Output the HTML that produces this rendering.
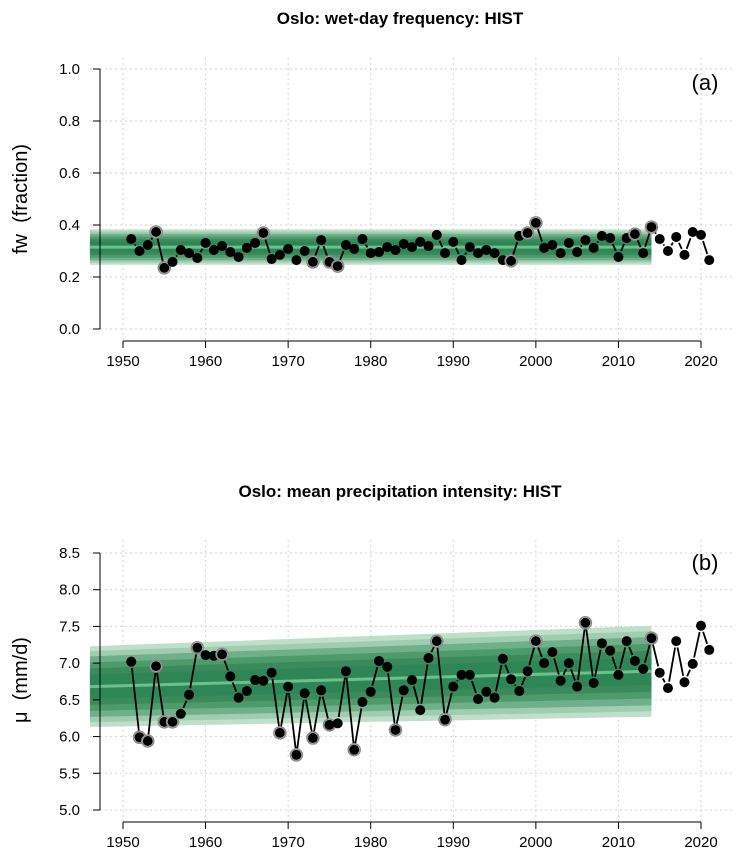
<!DOCTYPE html>
<html><head><meta charset="utf-8">
<style>
html,body{margin:0;padding:0;background:#fff;}
svg{display:block;font-family:"Liberation Sans",sans-serif;}
</style></head>
<body>
<svg id="chart" width="738" height="860" viewBox="0 0 738 860" xmlns="http://www.w3.org/2000/svg"></svg>
<script>
const years = [];
for (let y = 1951; y <= 2021; y++) years.push(y);
const fwValues = [.346,.30,.323,.373,.235,.258,.304,.292,.273,.331,.304,.319,.296,.277,.312,.331,.369,.269,.285,.308,.265,.30,.258,.342,.258,.242,.323,.308,.346,.292,.296,.315,.304,.327,.315,.335,.319,.362,.292,.335,.265,.315,.292,.304,.292,.265,.262,.358,.369,.408,.312,.323,.292,.331,.296,.342,.312,.358,.35,.277,.35,.365,.292,.392,.346,.30,.354,.285,.373,.362,.265];
const fwOutlined = [1954,1955,1967,1973,1975,1976,1997,1999,2000,2012,2014];
const muValues = [7.02,5.99,5.94,6.96,6.20,6.20,6.31,6.57,7.21,7.11,7.10,7.12,6.82,6.53,6.62,6.77,6.76,6.87,6.05,6.68,5.75,6.59,5.98,6.63,6.16,6.18,6.89,5.82,6.47,6.61,7.03,6.95,6.09,6.63,6.77,6.36,7.07,7.30,6.23,6.68,6.84,6.84,6.51,6.61,6.53,7.06,6.78,6.62,6.89,7.30,7.00,7.15,6.76,7.00,6.68,7.55,6.73,7.27,7.17,6.84,7.30,7.03,6.92,7.34,6.87,6.66,7.30,6.74,6.99,7.51,7.18];
const muOutlined = [1952,1953,1954,1955,1956,1959,1962,1969,1971,1973,1975,1978,1983,1988,1989,2000,2006,2014];
const xTicks = [1950,1960,1970,1980,1990,2000,2010,2020];
const fwTicks = [0.0,0.2,0.4,0.6,0.8,1.0];
const muTicks = [5.0,5.5,6.0,6.5,7.0,7.5,8.0,8.5];
const fwBandCentre = [0.315,0.315];
const fwBandHalf = [0.068,0.068];
const muBandCentre = [6.68,6.89];
const muBandHalf = [0.55,0.62];
const bandYears = [1946.0,2014];

const svg = document.getElementById('chart');
const NS = 'http://www.w3.org/2000/svg';
function mk(tag, attrs, parent){const e=document.createElementNS(NS,tag);for(const k in attrs)e.setAttribute(k,attrs[k]);(parent||svg).appendChild(e);return e;}
const xs = y => 123 + (y-1950)*(701-123)/70;

function panel(cfg){
  const g = mk('g',{});
  
  
  const ys = v => cfg.y0px + (v-cfg.v0)*(cfg.y1px-cfg.y0px)/(cfg.v1-cfg.v0);
  xTicks.forEach(t=>{const l=mk('line',{x1:xs(t),x2:xs(t),y1:cfg.top,y2:cfg.bottom,stroke:'#d3d3d3','stroke-dasharray':'2,3','stroke-width':1},g);
    });
  cfg.ticks.forEach(t=>{const l=mk('line',{x1:90,x2:732,y1:ys(t),y2:ys(t),stroke:'#d3d3d3','stroke-dasharray':'2,3','stroke-width':1},g);
    });
  const bx0=xs(bandYears[0]), bx1=xs(bandYears[1]);
  const layers=[[1.0,'#c0dfcb'],[0.88,'#9fcdb0'],[0.75,'#6fb08a'],[0.6,'#4d9a6b'],[0.45,'#3a8a5b'],[0.3,'#2e8656']];
  layers.forEach(([f,c])=>{
    const p=mk('polygon',{fill:c,points:[
      [bx0,ys(cfg.bc[0]+cfg.bh[0]*f)],[bx1,ys(cfg.bc[1]+cfg.bh[1]*f)],
      [bx1,ys(cfg.bc[1]-cfg.bh[1]*f)],[bx0,ys(cfg.bc[0]-cfg.bh[0]*f)]].map(p=>p.join(',')).join(' ')},g);
    
  });
  const cl=mk('line',{x1:bx0,x2:bx1,y1:ys(cfg.bc[0]),y2:ys(cfg.bc[1]),stroke:'#6cc08d','stroke-width':3},g);
  
  for(let i=0;i<years.length-1;i++){
    const x1=xs(years[i]),y1=ys(cfg.vals[i]),x2=xs(years[i+1]),y2=ys(cfg.vals[i+1]);
    const d=Math.hypot(x2-x1,y2-y1),gap=6.5;
    if(d>2*gap+1){const ux=(x2-x1)/d,uy=(y2-y1)/d;
      const l=mk('line',{x1:x1+ux*gap,y1:y1+uy*gap,x2:x2-ux*gap,y2:y2-uy*gap,stroke:'#000','stroke-width':1.8},g);
      }
  }
  years.forEach((yr,i)=>{
    const x=xs(yr),y=ys(cfg.vals[i]);
    if(cfg.out.includes(yr)){const r=mk('circle',{cx:x,cy:y,r:6,fill:'#fff',stroke:'#8a8a8a','stroke-width':1.5},g);
      }
    const c=mk('circle',{cx:x,cy:y,r:5,fill:'#000'},g);
    
  });
  const ya=mk('line',{x1:100,x2:100,y1:ys(cfg.ticks[0]),y2:ys(cfg.ticks[cfg.ticks.length-1]),stroke:'#000'},g);
  
  cfg.ticks.forEach(t=>{mk('line',{x1:93,x2:100,y1:ys(t),y2:ys(t),stroke:'#000'},g);
    const tx=mk('text',{x:80,y:ys(t)+5,'text-anchor':'end','font-size':15,fill:'#000'},g);tx.textContent=t.toFixed(1);
    });
  const xa=mk('line',{x1:xs(1950),x2:xs(2020),y1:cfg.axisY,y2:cfg.axisY,stroke:'#000'},g);
  
  xTicks.forEach(t=>{mk('line',{x1:xs(t),x2:xs(t),y1:cfg.axisY,y2:cfg.axisY+7,stroke:'#000'},g);
    const tx=mk('text',{x:xs(t),y:cfg.axisY+25,'text-anchor':'middle','font-size':15,fill:'#000'},g);tx.textContent=t;
    });
  const ti=mk('text',{x:400,y:cfg.titleY,'text-anchor':'middle','font-size':17,'font-weight':'bold'},g);ti.textContent=cfg.title;
  
  const pl=mk('text',{x:705,y:cfg.labelY,'text-anchor':'middle','font-size':22},g);pl.textContent=cfg.plabel;
  
  const yl=mk('text',{x:0,y:0,'text-anchor':'middle','font-size':20,transform:`translate(27,${cfg.ylabY}) rotate(-90)`},g);
  yl.textContent=cfg.ylab;yl.style.whiteSpace='pre';
  
}
panel({name:'panel-a-wet-day-frequency',vals:fwValues,out:fwOutlined,ticks:fwTicks,v0:0,v1:1,y0px:329,y1px:69,
  bc:fwBandCentre,bh:fwBandHalf,top:58,bottom:340,axisY:341,titleY:24,labelY:90,plabel:'(a)',title:'Oslo: wet-day frequency: HIST',ylab:'fw  (fraction)',ylabY:199});
panel({name:'panel-b-precip-intensity',vals:muValues,out:muOutlined,ticks:muTicks,v0:5,v1:8.5,y0px:810,y1px:553,
  bc:muBandCentre,bh:muBandHalf,top:540,bottom:821,axisY:822,titleY:497,labelY:570,plabel:'(b)',title:'Oslo: mean precipitation intensity: HIST',ylab:'μ  (mm/d)',ylabY:680});
</script>
</body></html>
